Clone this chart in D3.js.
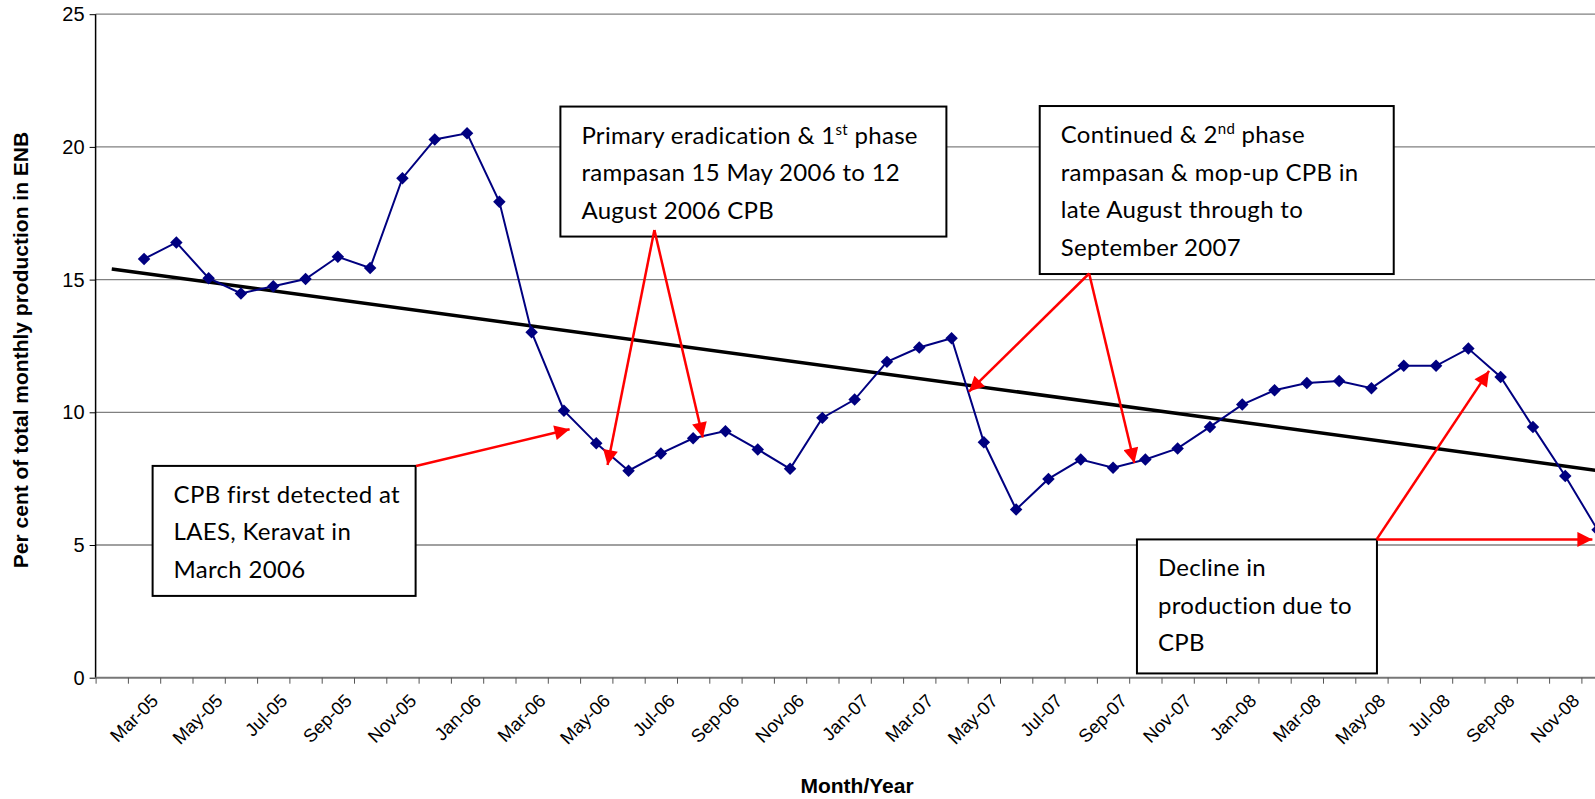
<!DOCTYPE html>
<html>
<head>
<meta charset="utf-8">
<script src="https://d3js.org/d3.v7.min.js"></script>
<style>
  body { margin: 0; background: #fff; }
  svg { display: block; font-family: "Liberation Sans", Arial, sans-serif; }
  .note { font-family: Lato, "Open Sans", sans-serif; font-size: 24px; letter-spacing: 0.3px; fill: #000; }
</style>
</head>
<body>
<svg id="chart" width="1595" height="799"></svg>
<script>
// months on the category axis (Feb-05 is an empty leading category)
const months = ["Feb-05", "Mar-05", "Apr-05", "May-05", "Jun-05", "Jul-05", "Aug-05", "Sep-05", "Oct-05", "Nov-05", "Dec-05",
  "Jan-06", "Feb-06", "Mar-06", "Apr-06", "May-06", "Jun-06", "Jul-06", "Aug-06", "Sep-06", "Oct-06", "Nov-06", "Dec-06",
  "Jan-07", "Feb-07", "Mar-07", "Apr-07", "May-07", "Jun-07", "Jul-07", "Aug-07", "Sep-07", "Oct-07", "Nov-07", "Dec-07",
  "Jan-08", "Feb-08", "Mar-08", "Apr-08", "May-08", "Jun-08", "Jul-08", "Aug-08", "Sep-08", "Oct-08", "Nov-08", "Dec-08"];

// per cent of total monthly production in ENB
const values = [null, 15.78, 16.40, 15.05, 14.48, 14.75, 15.02, 15.86, 15.44, 18.82, 20.28,
  20.51, 17.93, 13.02, 10.06, 8.83, 7.80, 8.45, 9.02, 9.29, 8.60, 7.87, 9.79,
  10.48, 11.90, 12.44, 12.79, 8.87, 6.34, 7.49, 8.22, 7.91, 8.22, 8.64, 9.45,
  10.29, 10.83, 11.10, 11.18, 10.91, 11.75, 11.75, 12.40, 11.33, 9.45, 7.60, 5.57];

const yTicks = [0, 5, 10, 15, 20, 25];

const tickLabels = ["Mar-05", "May-05", "Jul-05", "Sep-05", "Nov-05", "Jan-06", "Mar-06", "May-06", "Jul-06", "Sep-06",
  "Nov-06", "Jan-07", "Mar-07", "May-07", "Jul-07", "Sep-07", "Nov-07", "Jan-08", "Mar-08", "May-08", "Jul-08",
  "Sep-08", "Nov-08"];

const noteTexts = [
  [["CPB first detected at"], ["LAES, Keravat in"], ["March 2006"]],
  [["Primary eradication & 1", "st", " phase"], ["rampasan 15 May 2006 to 12"], ["August 2006 CPB"]],
  [["Continued & 2", "nd", " phase"], ["rampasan & mop-up CPB in"], ["late August through to"], ["September 2007"]],
  [["Decline in"], ["production due to"], ["CPB"]]
];

const svg = d3.select("#chart");
const plotLeft = 95.6, band = 32.3, plotBottom = 677.7, plotTop = 14.2;

const x = d3.scaleLinear().domain([-0.5, months.length - 0.5]).range([plotLeft, plotLeft + band * months.length]);
const y = d3.scaleLinear().domain([0, 25]).range([plotBottom, plotTop]);

// gridlines
svg.append("g").selectAll("line").data(yTicks.filter(d => d > 0)).join("line")
  .attr("x1", plotLeft).attr("x2", 1595)
  .attr("y1", d => y(d)).attr("y2", d => y(d))
  .style("stroke", "#808080").style("stroke-width", 1.3);

// y axis
const yAxis = svg.append("g").attr("transform", `translate(${plotLeft},0)`)
  .call(d3.axisLeft(y).tickValues(yTicks).tickSize(6).tickPadding(6));
yAxis.attr("font-family", null);
yAxis.select(".domain").attr("d", `M0,${plotTop}V${plotBottom}`).style("stroke", "#000").style("stroke-width", 1.5);
yAxis.selectAll(".tick line").style("stroke", "#000");
yAxis.selectAll(".tick text").style("font-size", "20px").attr("x", -11);

// x axis: ticks between categories
const xAxis = svg.append("g").attr("transform", `translate(0,${plotBottom})`)
  .call(d3.axisBottom(x).tickValues(d3.range(months.length + 1).map(i => i - 0.5)).tickSize(6).tickFormat(""));
xAxis.select(".domain").attr("d", `M${plotLeft},0H1595`).style("stroke", "#777").style("stroke-width", 2);
xAxis.selectAll(".tick line").style("stroke", "#555");

svg.append("g").selectAll("text").data(tickLabels).join("text")
  .attr("transform", d => `translate(${x(months.indexOf(d)) + 6},${plotBottom + 15}) rotate(-45)`)
  .attr("text-anchor", "end").attr("dy", "0.7em")
  .style("font-size", "18.5px")
  .text(d => d);

// axis titles
svg.append("text")
  .attr("transform", `translate(28,350) rotate(-90)`)
  .attr("text-anchor", "middle")
  .style("font-size", "21px").style("font-weight", "bold")
  .text("Per cent of total monthly production in ENB");
svg.append("text")
  .attr("x", 857).attr("y", 793)
  .attr("text-anchor", "middle")
  .style("font-size", "21px").style("font-weight", "bold")
  .text("Month/Year");

// linear trendline (least squares over the months that have data)
const pts = values.map((v, i) => [i, v]).filter(d => d[1] != null);
const mx = d3.mean(pts, d => d[0]), my = d3.mean(pts, d => d[1]);
const slope = d3.sum(pts, d => (d[0] - mx) * (d[1] - my)) / d3.sum(pts, d => (d[0] - mx) ** 2);
const icpt = my - slope * mx;
svg.append("line")
  .attr("x1", x(0)).attr("y1", y(icpt))
  .attr("x2", x(months.length - 1)).attr("y2", y(icpt + slope * (months.length - 1)))
  .style("stroke", "#000").style("stroke-width", 3.5);

// series
const line = d3.line().defined(d => d[1] != null).x(d => x(d[0])).y(d => y(d[1]));
svg.append("path").datum(values.map((v, i) => [i, v]))
  .attr("d", line)
  .style("fill", "none").style("stroke", "#000080").style("stroke-width", 2);
svg.append("g").selectAll("path").data(pts).join("path")
  .attr("d", d3.symbol(d3.symbolSquare, 78))
  .attr("transform", d => `translate(${x(d[0])},${y(d[1])}) rotate(45)`)
  .style("fill", "#000080");

// annotation boxes, placed in chart coordinates (month index, value) with pixel size
const boxes = [
  { i: 1.265, v: 7.98, w: 263, h: 130, pad: 21 },
  { i: 13.89, v: 21.52, w: 386, h: 130, pad: 21 },
  { i: 28.73, v: 21.54, w: 354, h: 168, pad: 21 },
  { i: 31.74, v: 5.21, w: 240, h: 134, pad: 21 }
];
boxes.forEach((b, k) => {
  const bx = x(b.i), by = y(b.v);
  svg.append("rect")
    .attr("x", bx).attr("y", by).attr("width", b.w).attr("height", b.h)
    .style("fill", "#fff").style("stroke", "#000").style("stroke-width", 2);
  noteTexts[k].forEach((parts, j) => {
    const t = svg.append("text").attr("class", "note")
      .attr("x", bx + b.pad).attr("y", by + 37 + j * 37.5);
    parts.forEach((p, n) => {
      const ts = t.append("tspan").text(p);
      if (n === 1) ts.attr("dy", -9).style("font-size", "15px");
      if (n === 2) ts.attr("dy", 9);
    });
  });
});

// red arrows, from box edge to target, in chart coordinates
const arrows = [
  [[9.42, 7.98], [14.175, 9.36]],
  [[16.80, 16.87], [15.35, 8.01]],
  [[16.80, 16.87], [18.30, 9.05]],
  [[30.26, 15.23], [26.54, 10.78]],
  [[30.26, 15.23], [31.66, 8.09]],
  [[39.16, 5.21], [42.64, 11.56]],
  [[39.16, 5.21], [45.84, 5.21]]
];
svg.append("defs").append("marker")
  .attr("id", "head").attr("viewBox", "0 0 10 10").attr("refX", 10).attr("refY", 5)
  .attr("markerWidth", 16).attr("markerHeight", 15).attr("markerUnits", "userSpaceOnUse")
  .attr("orient", "auto")
  .append("path").attr("d", "M0,0L10,5L0,10Z").style("fill", "#ff0000");
svg.append("g").selectAll("line").data(arrows).join("line")
  .attr("x1", d => x(d[0][0])).attr("y1", d => y(d[0][1]))
  .attr("x2", d => x(d[1][0])).attr("y2", d => y(d[1][1]))
  .attr("marker-end", "url(#head)")
  .style("stroke", "#ff0000").style("stroke-width", 2.5);
</script>
</body>
</html>
